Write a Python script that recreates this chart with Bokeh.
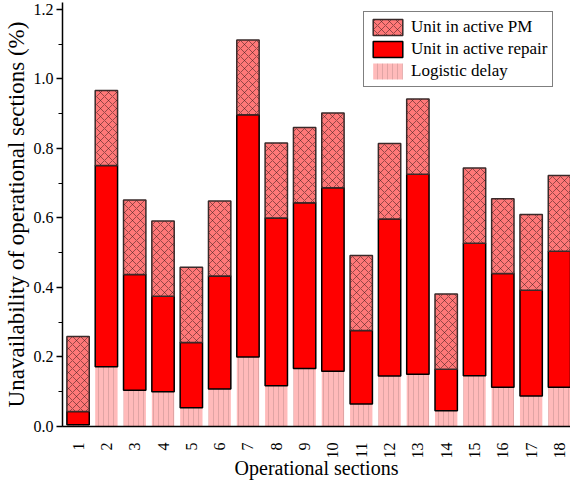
import math
from bokeh.plotting import figure
from bokeh.models import (ColumnDataSource, Range1d, SingleIntervalTicker, FixedTicker,
                          PrintfTickFormatter, Legend, LegendItem)
from bokeh.transform import stack
from bokeh.embed import file_html
from bokeh.resources import INLINE

sections = list(range(1, 19))
section_labels = [str(s) for s in sections]
# cumulative tops
logistic_top = [0.005, 0.172, 0.104, 0.100, 0.054, 0.108, 0.200, 0.117, 0.167,
                0.159, 0.065, 0.145, 0.150, 0.045, 0.146, 0.113, 0.088, 0.113]
repair_top = [0.043, 0.751, 0.437, 0.375, 0.242, 0.433, 0.897, 0.600, 0.644,
              0.687, 0.276, 0.597, 0.726, 0.165, 0.527, 0.440, 0.392, 0.504]
pm_top = [0.259, 0.967, 0.652, 0.591, 0.458, 0.649, 1.112, 0.816, 0.860,
          0.902, 0.492, 0.814, 0.942, 0.381, 0.744, 0.655, 0.610, 0.722]

logistic = logistic_top
repair = [r - l for r, l in zip(repair_top, logistic_top)]
pm = [t - r for t, r in zip(pm_top, repair_top)]

src = ColumnDataSource(dict(x=sections, logistic=logistic, repair=repair, pm=pm))

FONT = "Liberation Serif"
BW = 0.79

p = figure(width=570, height=481, output_backend="svg", toolbar_location=None,
           x_range=Range1d(0.45, 18.39), y_range=Range1d(0, 1.22),
           min_border_left=55, min_border_right=0, min_border_top=2, min_border_bottom=40)
p.outline_line_color = None
p.xgrid.visible = False
p.ygrid.visible = False

r_log = p.vbar(x='x', width=BW, bottom=0, top=stack('logistic'), source=src,
               fill_color="#FFBABA", line_color=None,
               hatch_pattern="vertical_line", hatch_scale=5, hatch_weight=0.6,
               hatch_color="#8a6a6a", hatch_alpha=0.45)
r_rep = p.vbar(x='x', width=BW, bottom=stack('logistic'), top=stack('logistic', 'repair'),
               source=src, fill_color="#FF0000", line_color="black", line_width=1.5)
r_pm = p.vbar(x='x', width=BW, bottom=stack('logistic', 'repair'),
              top=stack('logistic', 'repair', 'pm'), source=src,
              fill_color="#FF7878", line_color="#3a2a2a", line_width=1.5,
              hatch_pattern="diagonal_cross", hatch_scale=8, hatch_weight=0.7,
              hatch_color="#3a1a1a", hatch_alpha=0.75)

# axes
yax = p.yaxis[0]
yax.ticker = SingleIntervalTicker(interval=0.2, num_minor_ticks=2)
yax.formatter = PrintfTickFormatter(format="%.1f")
yax.axis_label = "Unavailability of operational sections (%)"
yax.axis_label_text_font = FONT
yax.axis_label_text_font_style = "normal"
yax.axis_label_text_font_size = "23px"
yax.axis_label_text_color = "black"
yax.axis_label_standoff = 2
yax.major_label_text_font = FONT
yax.major_label_text_font_size = "16px"
yax.major_label_text_color = "black"
yax.major_label_standoff = 3
yax.axis_line_width = 1.5
yax.axis_line_color = "black"
yax.major_tick_line_width = 1.5
yax.major_tick_out = 6
yax.major_tick_in = 0
yax.minor_tick_line_width = 1.2
yax.minor_tick_out = 4
yax.minor_tick_in = 0

xax = p.xaxis[0]
xax.ticker = FixedTicker(ticks=sections)
xax.major_label_overrides = {s: lab for s, lab in zip(sections, section_labels)}
xax.major_label_orientation = math.pi / 2
xax.axis_label = "Operational sections"
xax.axis_label_text_font = FONT
xax.axis_label_text_font_style = "normal"
xax.axis_label_text_font_size = "20px"
xax.axis_label_text_color = "black"
xax.axis_label_standoff = -5
xax.major_label_text_font = FONT
xax.major_label_text_font_size = "16px"
xax.major_label_text_color = "black"
xax.major_label_standoff = 10
xax.axis_line_width = 1.5
xax.axis_line_color = "black"
xax.major_tick_line_color = None
xax.minor_tick_line_color = None

legend = Legend(items=[
    LegendItem(label="Unit in active PM", renderers=[r_pm]),
    LegendItem(label="Unit in active repair", renderers=[r_rep]),
    LegendItem(label="Logistic delay", renderers=[r_log]),
], location=(301, 339))
legend.label_text_font = FONT
legend.label_text_font_size = "17px"
legend.label_text_color = "black"
legend.glyph_width = 37
legend.glyph_height = 20
legend.label_height = 20
legend.spacing = 2
legend.padding = 5
legend.margin = 0
legend.label_standoff = 5
legend.border_line_color = "black"
legend.border_line_width = 1.2
legend.background_fill_alpha = 1
p.add_layout(legend, "center")

open("out.html", "w").write(file_html(p, INLINE))
